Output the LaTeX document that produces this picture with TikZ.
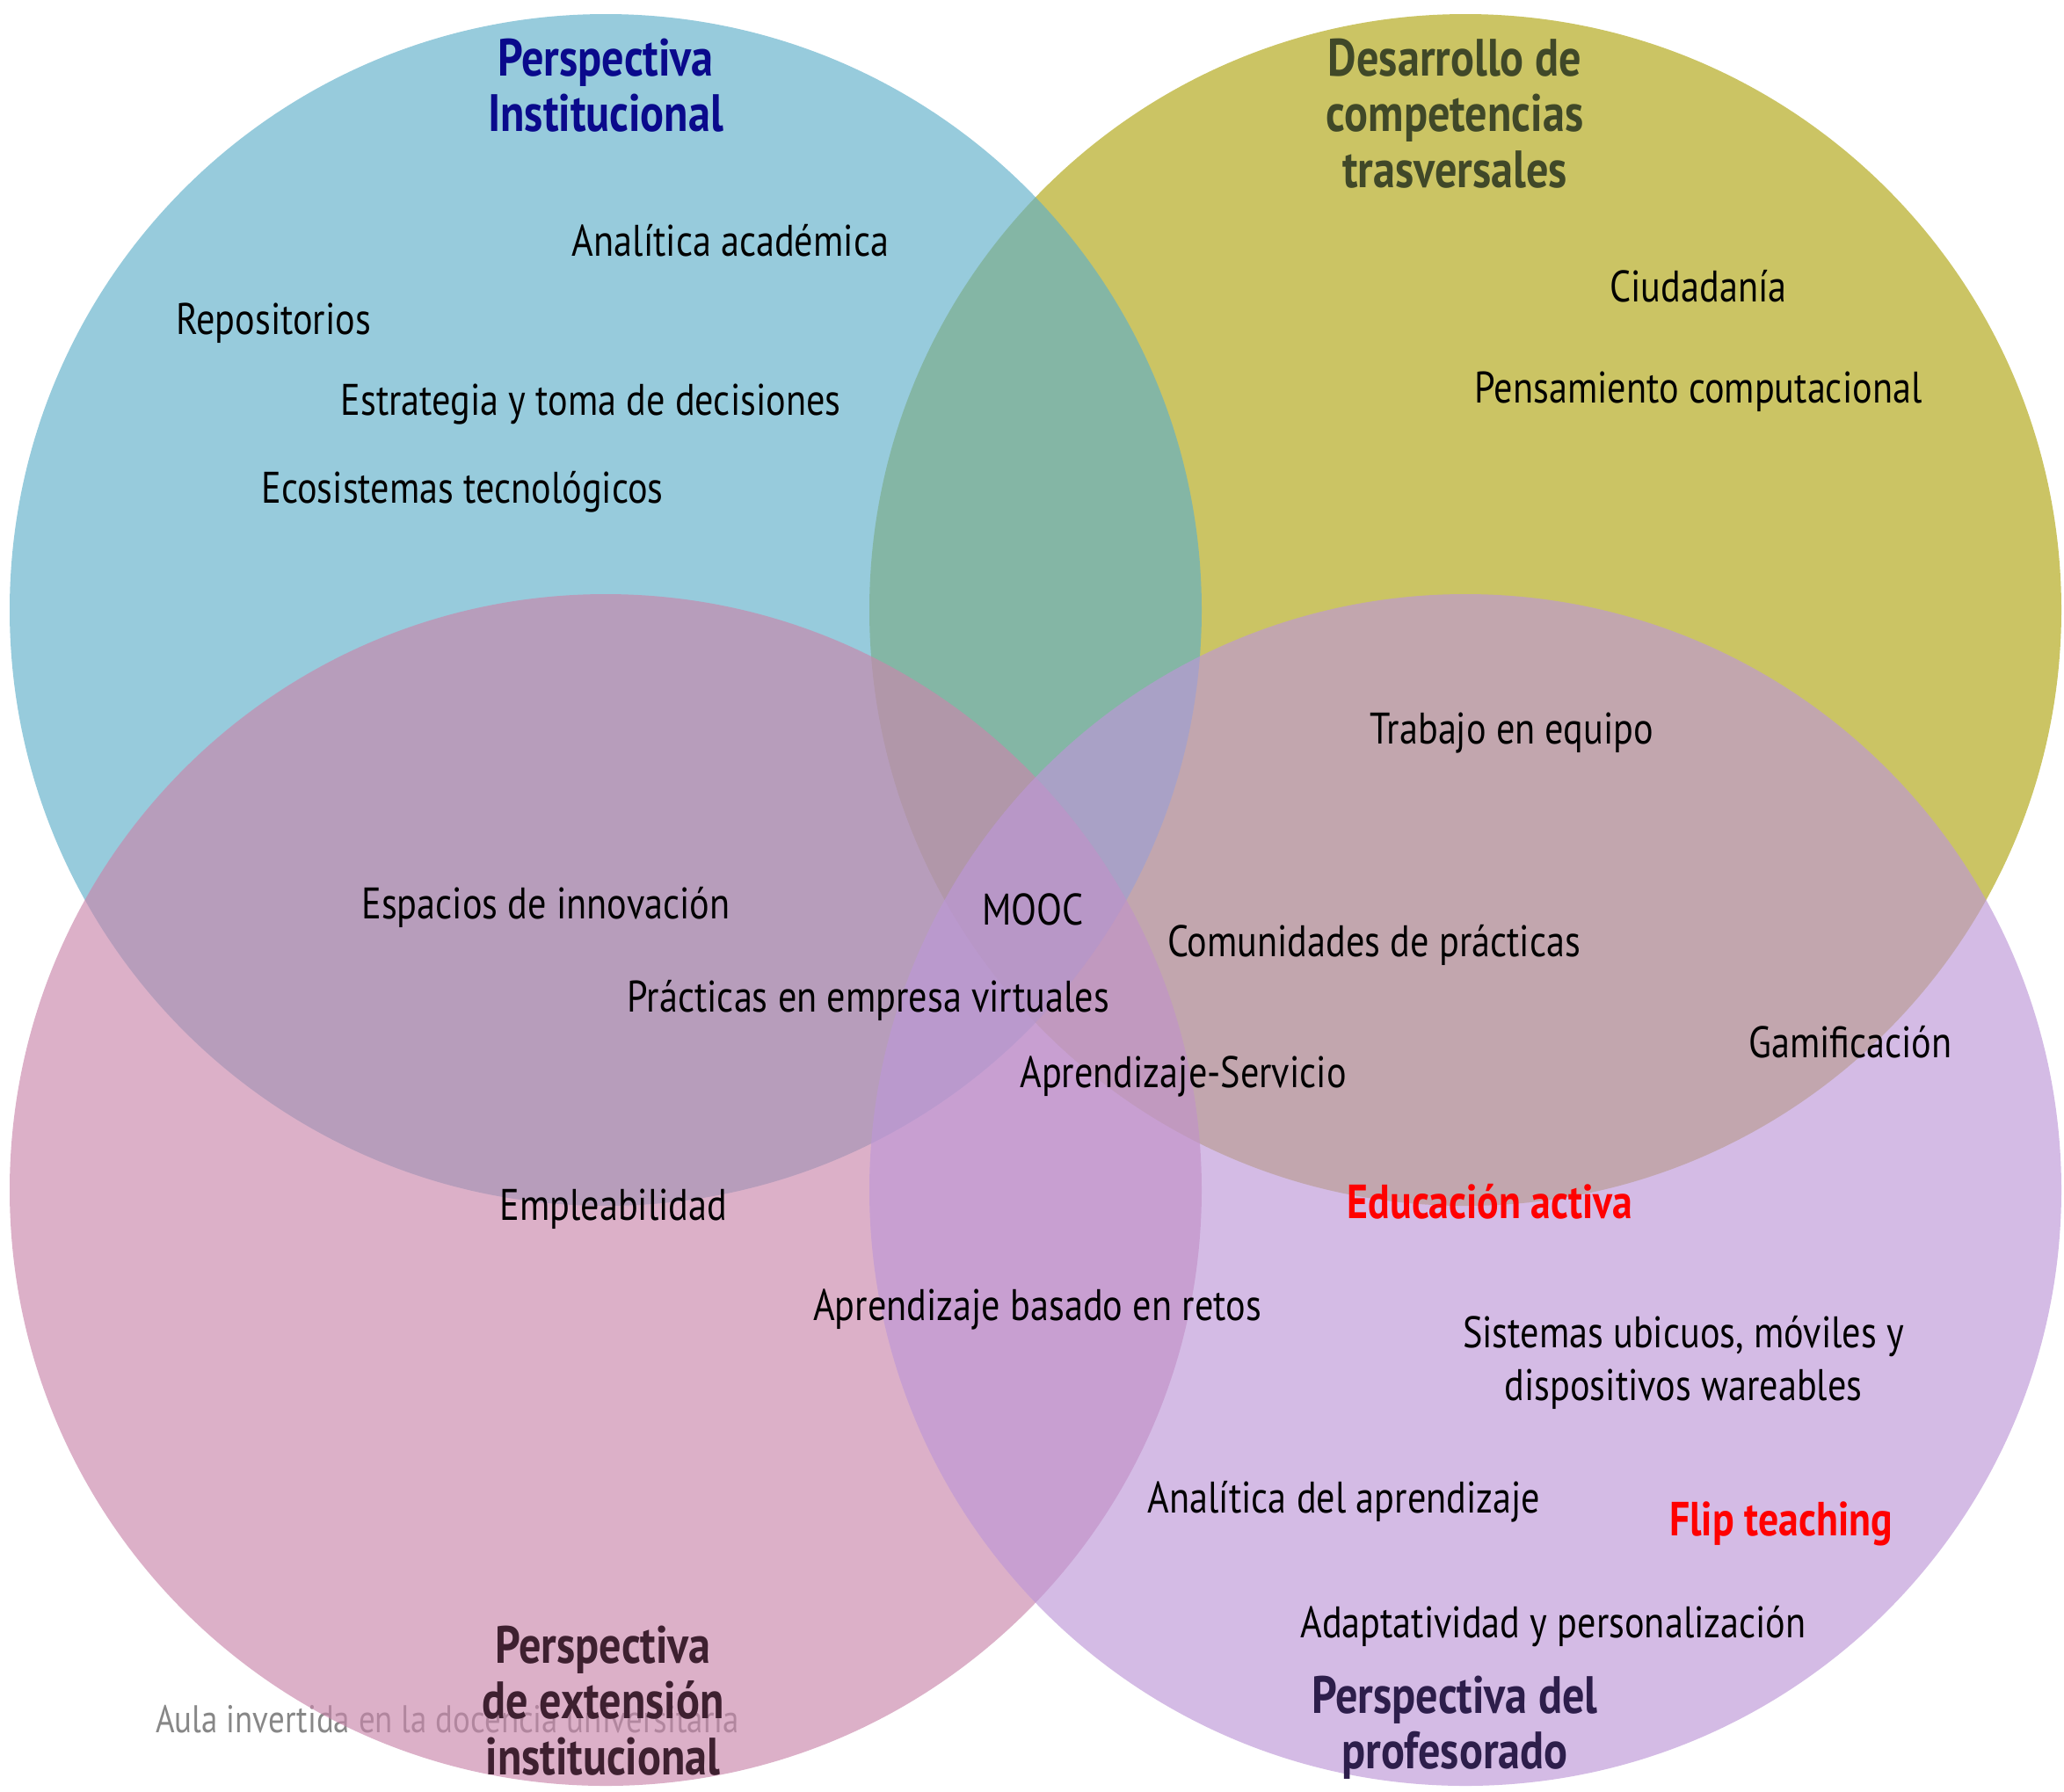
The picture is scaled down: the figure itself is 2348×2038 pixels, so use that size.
\documentclass[tikz,border=0pt]{standalone}
\usepackage{fontspec}
\setmainfont[FakeStretch=0.84]{PT Sans}
\definecolor{cblue}{RGB}{95,175,201}
\definecolor{colive}{RGB}{175,165,17}
\definecolor{cpink}{RGB}{201,134,171}
\definecolor{cpurple}{RGB}{189,151,215}
\definecolor{tblue}{RGB}{10,10,140}
\definecolor{tolive}{RGB}{64,72,40}
\definecolor{tpink}{RGB}{62,32,48}
\definecolor{tpurple}{RGB}{45,30,75}
\definecolor{tred}{RGB}{255,0,0}
\begin{document}
\begin{tikzpicture}[x=0.01cm, y=-0.01cm,
  set/.style={fill opacity=0.65},
  item/.style={font=\fontsize{14.3}{17}\selectfont, align=center, inner sep=0pt},
  head/.style={font=\bfseries\fontsize{17}{18}\selectfont, align=center, inner sep=0pt},
  hot/.style={font=\bfseries\fontsize{15.5}{18}\selectfont, text=tred, inner sep=0pt}]
\useasboundingbox (0,0) rectangle (2348,2038);
% watermark, under the circles
\node[item, font=\fontsize{12.5}{15}\selectfont, text=black!47] (wm) at (509,1956) {Aula invertida en la docencia universitaria};
% the four sets
\fill[set, colive] (1667,694) circle[radius=678];
\fill[set, cblue] (689,694) circle[radius=678];
\fill[set, cpink] (689,1354) circle[radius=678];
\fill[set, cpurple] (1667,1354) circle[radius=678];
% set titles
\node[head, text=tblue] (inst) at (689,97) {Perspectiva\\Institucional};
\node[head, text=tolive] (comp) at (1655,129) {Desarrollo de\\competencias\\trasversales};
\node[head, text=tpink] (ext) at (686,1935) {Perspectiva\\de extensi\'on\\institucional};
\node[head, text=tpurple] (prof) at (1655,1966) {Perspectiva del\\profesorado};
% items
\node[item] (analac) at (831,274) {Analítica académica};
\node[item] (repo) at (311,368) {Repositorios};
\node[item] (estr) at (672,460) {Estrategia y toma de decisiones};
\node[item] (ecos) at (526,560) {Ecosistemas tecnológicos};
\node[item] (ciud) at (1932,326) {Ciudadanía};
\node[item] (pens) at (1932,446) {Pensamiento computacional};
\node[item] (equipo) at (1720,834) {Trabajo en equipo};
\node[item] (espac) at (621,1032) {Espacios de innovación};
\node[item] (mooc) at (1175,1035) {MOOC};
\node[item] (comun) at (1563,1075) {Comunidades de prácticas};
\node[item] (empresa) at (988,1138) {Prácticas en empresa virtuales};
\node[item] (gamif) at (2105,1186) {Gamificación};
\node[item] (apserv) at (1346,1225) {Aprendizaje-Servicio};
\node[item] (emple) at (698,1376) {Empleabilidad};
\node[item] (retos) at (1180,1490) {Aprendizaje basado en retos};
\node[item] (ubic) at (1915,1550) {Sistemas ubicuos, móviles y\\dispositivos wareables};
\node[item] (analap) at (1529,1709) {Analítica del aprendizaje};
\node[item] (adapt) at (1767,1851) {Adaptatividad y personalización};
\node[hot] (activa) at (1695,1367) {Educación activa};
\node[hot] (flip) at (2026,1734) {Flip teaching};
\end{tikzpicture}
\end{document}
